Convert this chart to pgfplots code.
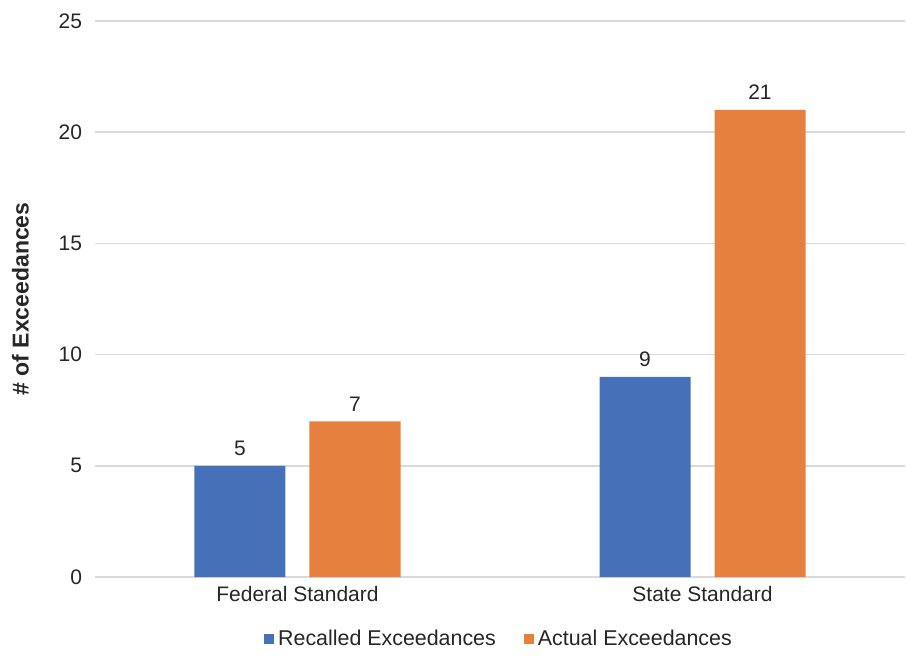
\documentclass[border=0pt]{standalone}
\usepackage{pgfplots}
\pgfplotsset{compat=1.18}
\usepackage{fontspec}
\setmainfont{Liberation Sans}
\definecolor{cblue}{HTML}{4671B8}
\definecolor{corange}{HTML}{E6803F}
\definecolor{ctext}{HTML}{262626}
\definecolor{cgrid}{HTML}{D9D9D9}
\begin{document}
\begin{tikzpicture}
\begin{axis}[
  scale only axis,
  width=405pt, height=278pt,
  ybar=12pt, bar width=45.5pt,
  xmin=-0.5, xmax=1.5,
  ymin=0, ymax=25,
  ytick={0,5,10,15,20,25},
  xtick={0,1},
  xticklabels={Federal Standard, State Standard},
  axis line style={draw=none},
  axis x line*=bottom,
  x axis line style={draw=cgrid, line width=0.8pt},
  major tick length=0pt,
  ymajorgrids, grid style={cgrid, line width=0.8pt},
  tick label style={font=\fontsize{10.5}{12}\selectfont, text=ctext},
  /pgf/number format/assume math mode=true,
  yticklabel style={xshift=-3pt},
  xticklabel style={yshift=-1pt},
  ylabel={\textbf{\# of Exceedances}},
  every axis y label/.style={at={(ticklabel cs:0.5)}, rotate=90, anchor=near ticklabel, yshift=8pt, font=\fontsize{11.5}{13}\selectfont, text=ctext},
  nodes near coords,
  nodes near coords style={font=\fontsize{10.5}{12}\selectfont, text=ctext, yshift=1.5pt},
  legend style={at={(0.5,-0.08)}, anchor=north, draw=none, font=\fontsize{10.7}{12}\selectfont, text=ctext, legend columns=2, /tikz/every even column/.append style={column sep=12pt}},
  legend image code/.code={\fill[#1] (0pt,-2.5pt) rectangle (5pt,2.5pt);},
  clip=false,
]
\addplot[fill=cblue, draw=none] coordinates {(0,5) (1,9)};
\addplot[fill=corange, draw=none] coordinates {(0,7) (1,21)};
\legend{Recalled Exceedances, Actual Exceedances}
\end{axis}
\path[use as bounding box] ([xshift=-47.5pt, yshift=-38.5pt]current axis.south west) rectangle ([xshift=0.5pt, yshift=10.5pt]current axis.north east);
\end{tikzpicture}
\end{document}
